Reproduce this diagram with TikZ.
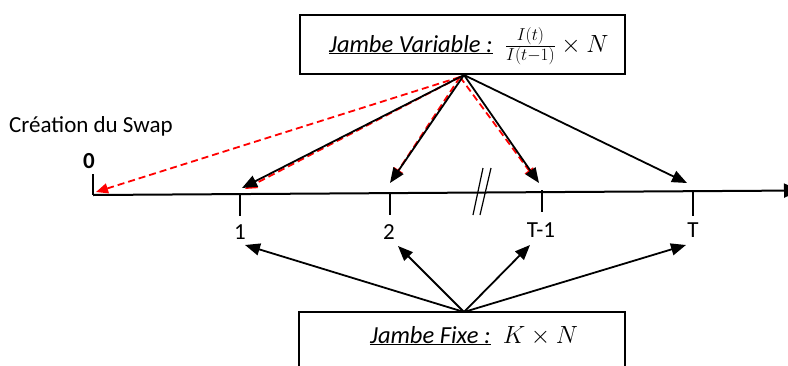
\documentclass[tikz,border=0pt]{standalone}
\usepackage{fontspec}
\setmainfont{Carlito}
\usetikzlibrary{arrows.meta}
\tikzset{
  lbl/.style={font=\fontsize{23}{26}\selectfont, inner sep=0pt},
  boxlbl/.style={font=\fontsize{24.5}{28}\selectfont, inner sep=0pt},
  legbox/.style={draw, line width=1.5pt, inner sep=0pt},
  blk/.style={line width=1.8pt, -{Triangle[length=15pt,width=12pt]}},
  redd/.style={red, line width=1.8pt, dash pattern=on 7pt off 4pt, -{Triangle[length=12pt,width=10pt]}},
  tick/.style={line width=1.4pt},
  axisl/.style={line width=2pt}
}
\begin{document}
\begin{tikzpicture}[x=1pt,y=-1pt]
\useasboundingbox (0,0) rectangle (788,365);
% boxes
\node[legbox, minimum width=325pt, minimum height=59pt] (vb) at (462.5,44.5) {};
\node[boxlbl, anchor=base west] (vbt) at (329,52) {\underline{\itshape Jambe Variable :}\enspace$\frac{I(t)}{I(t-1)}\times N$};
\draw[line width=1.5pt] (299,380) -- (299,312) -- (625,312) -- (625,380);
\coordinate (fb) at (464,312);
\node[boxlbl, anchor=base west] (fbt) at (370,343) {\underline{\itshape Jambe Fixe :}\enspace$K\times N$};
% axis
\coordinate (a0) at (93,195);
\coordinate (aend) at (800,190.5);
\draw[axisl, -{Triangle[length=16pt,width=14pt]}] (a0) -- (aend);
\coordinate (apex) at (464,75);
% ticks
\draw[tick] (93,174) coordinate (t0) -- (a0);
\draw[tick] (240,194) coordinate (t1) -- (240,216);
\draw[tick] (390,193) coordinate (t2) -- (390,215);
\draw[tick] (542,190) coordinate (t3) -- (542,212);
\draw[tick] (693,191) coordinate (t4) -- (693,216);
% break mark
\draw[line width=1.2pt] (483,168) -- (473,215);
\draw[line width=1.2pt] (491,168) -- (480,215);
% labels
\node[lbl, font=\fontsize{23}{26}\selectfont\bfseries] (l0) at (89,161) {0};
\node[lbl, anchor=west] (lcs) at (9,126) {Création du Swap};
\node[lbl] (l1) at (240,232) {1};
\node[lbl] (l2) at (389,232) {2};
\node[lbl] (l3) at (541,230) {T-1};
\node[lbl] (l4) at (693,230) {T};
% targets
\coordinate (r0) at (96,192);
\coordinate (r1) at (245,189);
\coordinate (r2) at (392,180);
\coordinate (r3) at (536,180);
\coordinate (b1) at (242,188);
\coordinate (b2) at (390,183);
\coordinate (b3) at (539,183);
\coordinate (b4) at (687,183);
\coordinate (ra) at (460,77);
% red dashed
\draw[redd] (ra) -- (r0);
\draw[redd] (ra) -- (r1);
\draw[redd] (ra) -- (r2);
\draw[redd] (ra) -- (r3);
% black arrows
\draw[blk] (apex) -- (b1);
\draw[blk] (apex) -- (b2);
\draw[blk] (apex) -- (b3);
\draw[blk] (apex) -- (b4);
% bottom arrows
\draw[blk] (fb) -- (245,245) coordinate (c1);
\draw[blk] (fb) -- (398,246) coordinate (c2);
\draw[blk] (fb) -- (530,245) coordinate (c3);
\draw[blk] (fb) -- (686,245) coordinate (c4);
\end{tikzpicture}
\end{document}
